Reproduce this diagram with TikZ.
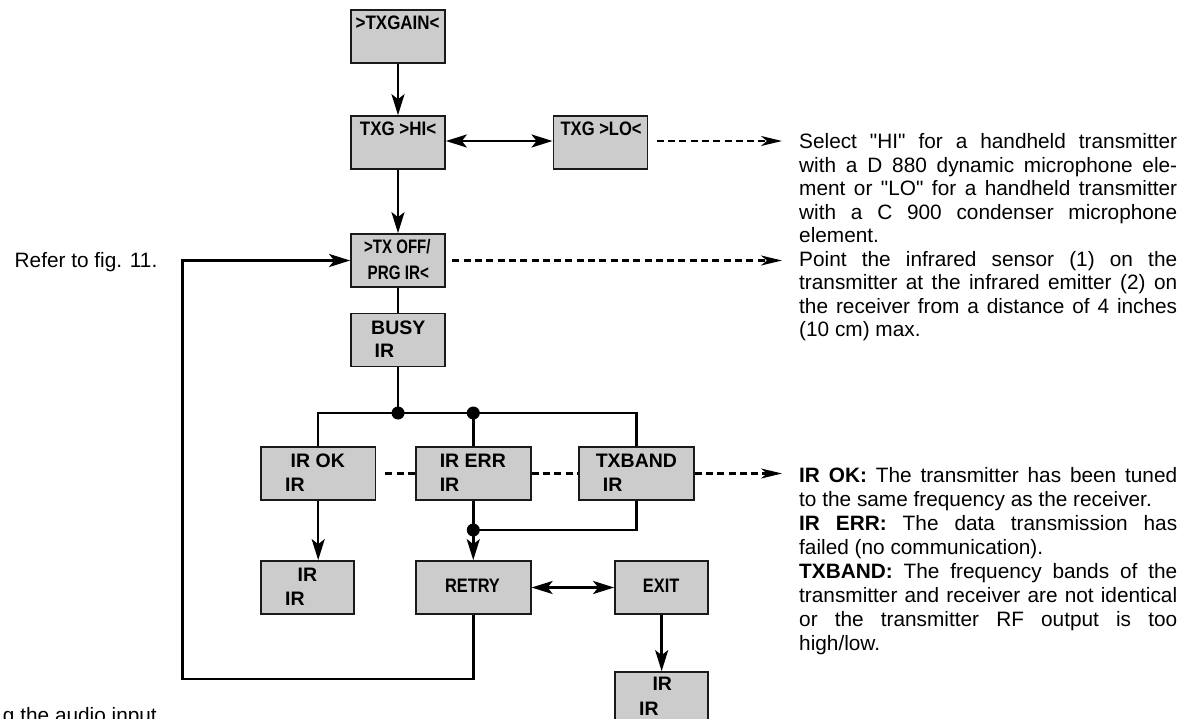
\documentclass[tikz,border=0pt]{standalone}
\usepackage{fontspec}
\setmainfont{Liberation Sans}[Ligatures=TeXOff]
\usepackage{graphicx}
\usetikzlibrary{arrows.meta}
\definecolor{boxgray}{HTML}{CCCCCC}
\definecolor{edgecol}{HTML}{1A1A1A}
\newcommand{\lblfont}{\fontsize{19.5}{22}\selectfont\bfseries}
\newcommand{\sx}[2]{\scalebox{#1}[1]{#2}}
\newcommand{\jl}[1]{\makebox[378pt][s]{#1}}
\begin{document}
\begin{tikzpicture}[x=1pt,y=-1pt,
  box/.style={draw=edgecol, line width=1.7pt, fill=boxgray, minimum height=53pt, inner sep=0pt},
  conn/.style={line width=2.5pt, line join=miter},
  arr/.style={conn, -{Stealth[length=21pt,width=13pt,inset=5pt]}},
  darr/.style={conn, {Stealth[length=21pt,width=13pt,inset=5pt]}-{Stealth[length=21pt,width=13pt,inset=5pt]}},
  dline/.style={line width=2.2pt, dash pattern=on 7pt off 4.3pt},
  darrow/.style={dline, -{Stealth[length=21pt,width=10pt,inset=6pt]}},
  dot/.style={circle, fill=black, inner sep=0pt, minimum size=13pt},
  lbl/.style={anchor=base west, inner sep=0pt, font=\lblfont},
  body/.style={anchor=base west, inner sep=0pt}]
\fill[white] (0,0) rectangle (1196,719);
\useasboundingbox (0,0) rectangle (1196,719);
\clip (0,0) rectangle (1196,719);

% boxes
\node[box, minimum width=94pt] (gain) at (398,36.5) {};
\node[box, minimum width=94pt] (hi) at (398,142.5) {};
\node[box, minimum width=94pt] (lo) at (600.4,142.5) {};
\node[box, minimum width=94pt] (off) at (398,260.5) {};
\node[box, minimum width=94pt] (busy) at (398,340) {};
\node[box, minimum width=114.4pt] (irok) at (318.2,473.5) {};
\node[box, minimum width=115pt] (irerr) at (473.25,473.5) {};
\node[box, minimum width=114.6pt] (txband) at (636.5,473.5) {};
\node[box, minimum width=93.3pt] (okir) at (307.65,587.5) {};
\node[box, minimum width=115pt] (retry) at (473.25,587.5) {};
\node[box, minimum width=93.3pt] (exit) at (661.65,587.5) {};
\node[box, minimum width=93.3pt] (exir) at (661.65,698.5) {};

% box labels
\node[lbl] (gaint) at (355.5,30) {\sx{0.87}{>TXGAIN<}};
\node[lbl] (hit) at (359.7,136) {\sx{0.87}{TXG >HI<}};
\node[lbl] (lot) at (560.4,136) {\sx{0.85}{TXG >LO<}};
\node[lbl] (offa) at (364,254) {\sx{0.77}{>TX OFF/}};
\node[lbl] (offb) at (367.5,279.5) {\sx{0.78}{PRG IR<}};
\node[lbl] (busya) at (371,334) {BUSY};
\node[lbl] (busyb) at (374.5,357) {IR};
\node[lbl] (iroka) at (290.5,467) {IR OK};
\node[lbl] (irokb) at (285,491) {IR};
\node[lbl] (irerra) at (439.6,467) {IR ERR};
\node[lbl] (irerrb) at (439.6,491) {IR};
\node[lbl] (txba) at (595.6,467) {TXBAND};
\node[lbl] (txbb) at (602.7,491) {IR};
\node[lbl] (okira) at (297.5,581) {IR};
\node[lbl] (okirb) at (285,605) {IR};
\node[lbl] (retryt) at (444.8,592.5) {\sx{0.84}{RETRY}};
\node[lbl] (exitt) at (642.7,592.5) {\sx{0.84}{EXIT}};
\node[lbl] (exira) at (652.3,690.7) {IR};
\node[lbl] (exirb) at (639,715.7) {IR};

% junctions and free ends
\node[dot] (j1) at (398,413) {};
\node[dot] (j2) at (473.25,413) {};
\node[dot] (j3) at (473.25,530) {};
\coordinate (t1) at (782,141);
\coordinate (t2) at (782,260.5);
\coordinate (t3) at (782,473.5);
\coordinate (lb) at (182.6,679);

% solid connectors
\draw[arr] (gain.south) -- (hi.north);
\draw[darr] ([yshift=1.5pt]hi.east) -- ([yshift=1.5pt]lo.west);
\draw[arr] (hi.south) -- (off.north);
\draw[conn] (off.south) -- (busy.north);
\draw[conn] (busy.south) -- (j1.center);
\draw[conn] (irok.north) -- (irok.north |- j1) -- (txband.north |- j1) -- (txband.north);
\draw[conn] (irerr.north) -- (j2.center);
\draw[arr] (irok.south) -- (irok.south |- okir.north);
\draw[conn] (irerr.south) -- (j3.center);
\draw[conn] (txband.south) |- (j3.center);
\draw[arr] (j3.center) -- (retry.north);
\draw[darr] (retry.east) -- (exit.west);
\draw[arr] (exit.south) -- (exir.north);
\draw[arr] (retry.south) -- (retry.south |- lb) -- (lb) |- (off.west);

% dashed connectors
\draw[darrow] ([xshift=8.5pt,yshift=1.5pt]lo.east) -- (t1);
\draw[darrow] ([xshift=6.6pt]off.east) -- (t2);
\draw[dline] ([xshift=9pt]irok.east) -- (irerr.west);
\draw[dline] (irerr.east) -- (txband.west);
\draw[darrow] (txband.east) -- (t3);

% side texts
\node[body, anchor=base east] (refer) at (157.5,267.5) {\fontsize{20.8}{23.5}\selectfont Refer to fig. 11.};
\node[body, anchor=base east] (audio) at (157,722) {\fontsize{20.8}{23.5}\selectfont g the audio input};

\node[body] (txta) at (799,149) {\parbox[t]{378pt}{\fontsize{20.8}{23.5}\selectfont\raggedright
\jl{Select "HI" for a handheld transmitter}\\
\jl{with a D 880 dynamic microphone ele-}\\
\jl{ment or "LO" for a handheld transmitter}\\
\jl{with a C 900 condenser microphone}\\
element.\\
\jl{Point the infrared sensor (1) on the}\\
\jl{transmitter at the infrared emitter (2) on}\\
\jl{the receiver from a distance of 4 inches}\\
(10 cm) max.}};

\node[body] (txtc) at (799,482.5) {\parbox[t]{378pt}{\fontsize{20.8}{24}\selectfont\raggedright
\jl{\textbf{IR OK:} The transmitter has been tuned}\\
to the same frequency as the receiver.\\
\jl{\textbf{IR ERR:} The data transmission has}\\
failed (no communication).\\
\jl{\textbf{TXBAND:} The frequency bands of the}\\
\jl{transmitter and receiver are not identical}\\
\jl{or the transmitter RF output is too}\\
high/low.}};
\end{tikzpicture}
\end{document}
